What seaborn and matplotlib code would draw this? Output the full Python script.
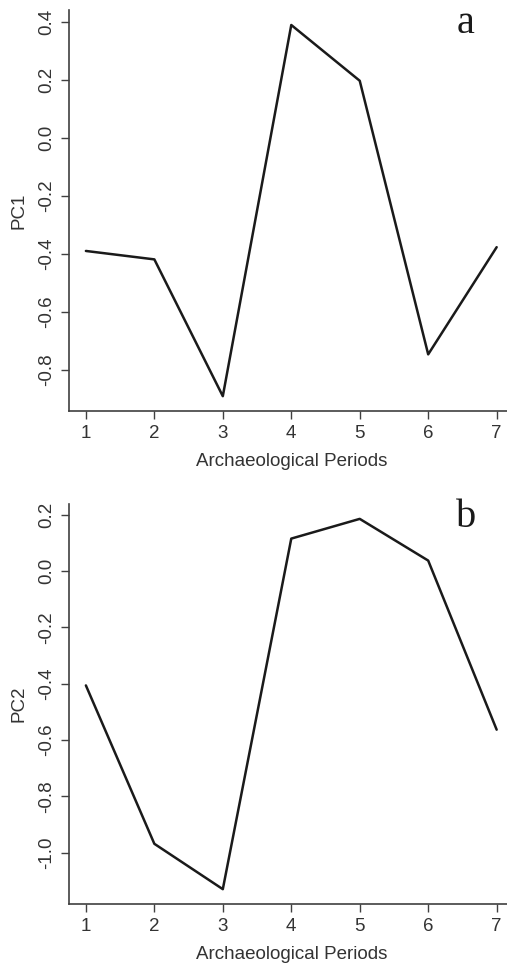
import numpy as np
import pandas as pd
import matplotlib
matplotlib.use('Agg')
import matplotlib.pyplot as plt
import seaborn as sns

sns.set_style("ticks")
plt.rcParams['font.family'] = ['Liberation Sans', 'DejaVu Sans']

# datos
periodos = [1, 2, 3, 4, 5, 6, 7]
pc1 = [-0.390, -0.419, -0.890, 0.388, 0.196, -0.746, -0.377]
pc2 = [-0.406, -0.968, -1.129, 0.115, 0.185, 0.037, -0.563]
ticks_pc1 = [-0.8, -0.6, -0.4, -0.2, 0.0, 0.2, 0.4]
ticks_pc2 = [-1.0, -0.8, -0.6, -0.4, -0.2, 0.0, 0.2]

df = pd.DataFrame({'periodo': periodos, 'PC1': pc1, 'PC2': pc2})

fig = plt.figure(figsize=(5.07, 9.66), dpi=100)
ax1 = fig.add_axes([0.137, 0.5745, 0.875, 0.415])
ax2 = fig.add_axes([0.137, 0.0642, 0.875, 0.414])

color_eje = '#404040'

for ax, col, ticks, letra in [(ax1, 'PC1', ticks_pc1, 'a'), (ax2, 'PC2', ticks_pc2, 'b')]:
    sns.lineplot(data=df, x='periodo', y=col, ax=ax, color='#1a1a1a', linewidth=1.8)
    ax.margins(x=0.04, y=0.04)
    ax.set_xticks(periodos)
    ax.set_yticks(ticks)
    ax.set_yticklabels([f'{t:.1f}' for t in ticks], rotation=90, va='center')
    ax.set_xlabel('Archaeological Periods', fontsize=13.5, color='#333333', labelpad=8)
    ax.set_ylabel(col, fontsize=13.5, color='#333333', labelpad=8)
    ax.tick_params(axis='both', labelsize=13.5, colors=color_eje, length=6, width=1,
                   labelcolor='#333333', pad=4)
    for s in ['top', 'right']:
        ax.spines[s].set_visible(False)
    for s in ['left', 'bottom']:
        ax.spines[s].set_color(color_eje)
        ax.spines[s].set_linewidth(1.2)
    ax.text(0.893, 0.943, letra, transform=ax.transAxes, fontsize=29,
            family=['Liberation Serif', 'DejaVu Serif'], ha='center', va='baseline', color='#1a1a1a')

fig.savefig('out.png', dpi=100)
